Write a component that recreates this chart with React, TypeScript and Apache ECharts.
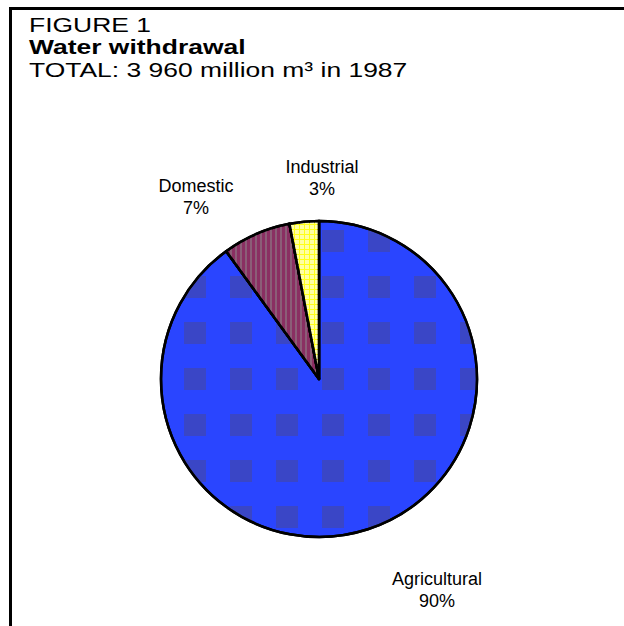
import React, { useEffect, useRef } from "react";
import * as echarts from "echarts";

const categories = ["Agricultural", "Domestic", "Industrial"];
const shares = [90, 7, 3];
const titleLines = ["FIGURE 1", "Water withdrawal", "TOTAL: 3 960 million m³ in 1987"];

const sliceColors = ["#2a45ff", "#8a2f62", "#ffff1a"];

export default function App() {
  const ref = useRef<HTMLDivElement>(null);
  useEffect(() => {
    if (!ref.current) return;
    const chart = echarts.init(ref.current, null, { renderer: "svg" });
    const labelPos = [
      { x: 437, y: 590 },
      { x: 196, y: 197 },
      { x: 322, y: 178 },
    ];
    const titleY = [25, 47, 70];
    const titleWeight = ["normal", "bold", "normal"];
    chart.setOption({
      animation: false,
      backgroundColor: "#ffffff",
      graphic: [
        { type: "line", shape: { x1: 10.5, y1: 8, x2: 10.5, y2: 626 }, style: { stroke: "#000", lineWidth: 3 } },
        { type: "line", shape: { x1: 9, y1: 8.5, x2: 624, y2: 8.5 }, style: { stroke: "#000", lineWidth: 3 } },
        ...titleLines.map((t, i) => ({
          type: "text",
          x: 29,
          y: titleY[i],
          scaleX: 1.26,
          style: {
            text: t,
            fontFamily: "Liberation Sans",
            fontSize: 21,
            fontWeight: titleWeight[i],
            fill: "#000",
            verticalAlign: "middle",
            align: "left",
          },
        })),
      ],
      series: [
        {
          type: "pie",
          center: [319, 379],
          radius: 158,
          startAngle: 90,
          clockwise: true,
          data: categories.map((name, i) => ({
            name,
            value: shares[i],
            itemStyle: {
              color: sliceColors[i],
              decal:
                i === 0
                  ? { symbol: "rect", symbolSize: 1, color: "rgba(70,70,150,0.55)", dashArrayX: [22, 24], dashArrayY: [22, 24], rotation: 0 }
                  : i === 1
                  ? { symbol: "rect", symbolSize: 1, color: "rgba(140,140,140,0.5)", dashArrayX: [2, 3], dashArrayY: [8, 0], rotation: 0 }
                  : { symbol: "rect", symbolSize: 1, color: "rgba(255,255,255,0.6)", dashArrayX: [4, 1], dashArrayY: [4, 1], rotation: 0 },
            },
          })),
          itemStyle: { borderColor: "#000", borderWidth: 2.5 },
          label: {
            show: true,
            formatter: "{b}\n{c}%",
            fontFamily: "Liberation Sans",
            fontSize: 18,
            lineHeight: 22,
            color: "#000",
            align: "center",
          },
          labelLine: { show: false },
          labelLayout: (params: any) => ({
            x: labelPos[params.dataIndex].x,
            y: labelPos[params.dataIndex].y,
            align: "center",
            verticalAlign: "middle",
          }),
          emphasis: { disabled: true },
        },
      ],
    });
    return () => chart.dispose();
  }, []);
  return <div ref={ref} style={{ position: "fixed", left: 0, top: 0, width: 624, height: 626 }} />;
}
